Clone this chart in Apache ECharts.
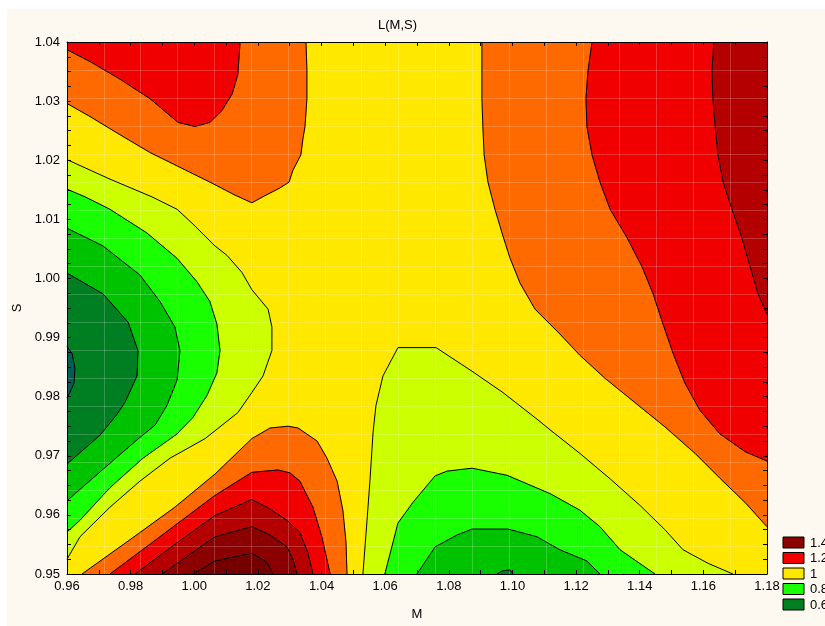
<!DOCTYPE html>
<html><head><meta charset="utf-8">
<script src="https://cdn.jsdelivr.net/npm/echarts@6/dist/echarts.min.js"></script>
<style>html,body{margin:0;padding:0;background:#fff;}#c{width:825px;height:626px;}</style>
</head><body><div id="c"></div>
<script>
// ---- axis ranges ----
const mRange = [0.96, 1.18];
const sRange = [0.95, 1.04];
const meshCount = 19; // data mesh intervals of the original surface

// ---- contour lines of L(M,S), as [M, S] points ----
// level 1.0
const c10_topLeft = [[0.9600,1.0296],[0.9672,1.0274],[0.9767,1.0243],[0.9861,1.0213],[0.9955,1.0188],[1.0049,1.0163],[1.0128,1.0141],[1.0181,1.0128],[1.0222,1.0140],[1.0269,1.0153],[1.0298,1.0163],[1.0310,1.0183],[1.0335,1.0209],[1.0342,1.0238],[1.0348,1.0257],[1.0354,1.0304],[1.0354,1.0354],[1.0351,1.0400]];
const c10_right = [[1.0904,1.0400],[1.0904,1.0304],[1.0907,1.0257],[1.0911,1.0209],[1.0923,1.0163],[1.0945,1.0117],[1.0970,1.0072],[1.0992,1.0035],[1.1024,0.9992],[1.1071,0.9948],[1.1149,0.9906],[1.1212,0.9870],[1.1291,0.9831],[1.1385,0.9790],[1.1479,0.9749],[1.1574,0.9704],[1.1652,0.9662],[1.1731,0.9621],[1.1800,0.9580]];
const c10_bottom = [[0.9647,0.9500],[0.9798,0.9558],[0.9939,0.9613],[1.0065,0.9669],[1.0181,0.9729],[1.0238,0.9747],[1.0295,0.9750],[1.0326,0.9747],[1.0386,0.9725],[1.0417,0.9696],[1.0449,0.9657],[1.0467,0.9608],[1.0477,0.9553],[1.0480,0.9500]];
// level 1.1
const c11_topLeft = [[0.9600,1.0387],[0.9672,1.0367],[0.9767,1.0337],[0.9861,1.0304],[0.9949,1.0264],[1.0002,1.0257],[1.0049,1.0264],[1.0087,1.0284],[1.0119,1.0312],[1.0137,1.0345],[1.0144,1.0400]];
const c11_right = [[1.1250,1.0400],[1.1237,1.0350],[1.1231,1.0304],[1.1234,1.0257],[1.1250,1.0209],[1.1275,1.0163],[1.1307,1.0117],[1.1360,1.0069],[1.1407,1.0020],[1.1442,0.9974],[1.1473,0.9923],[1.1505,0.9873],[1.1542,0.9823],[1.1589,0.9777],[1.1652,0.9737],[1.1731,0.9707],[1.1800,0.9691]];
const c11_bottom = [[0.9735,0.9500],[0.9892,0.9563],[1.0065,0.9633],[1.0181,0.9672],[1.0263,0.9676],[1.0301,0.9671],[1.0332,0.9657],[1.0373,0.9613],[1.0401,0.9563],[1.0427,0.9500]];
// level 1.2
const c12_right = [[1.1633,1.0400],[1.1627,1.0350],[1.1630,1.0304],[1.1637,1.0257],[1.1646,1.0209],[1.1662,1.0163],[1.1690,1.0117],[1.1721,1.0069],[1.1747,1.0020],[1.1772,0.9974],[1.1800,0.9939]];
const c12_bottom = [[0.9814,0.9500],[0.9946,0.9553],[1.0065,0.9599],[1.0181,0.9626],[1.0229,0.9613],[1.0291,0.9591],[1.0332,0.9570],[1.0357,0.9536],[1.0373,0.9500]];
// level 1.3
const c13_bottom = [[0.9899,0.9500],[1.0065,0.9563],[1.0181,0.9580],[1.0238,0.9566],[1.0291,0.9546],[1.0310,0.9525],[1.0323,0.9500]];
// level 1.4
const c14_bottom = [[0.9996,0.9500],[1.0065,0.9522],[1.0181,0.9535],[1.0229,0.9520],[1.0247,0.9500]];
// level 0.9
const c09_left = [[0.9600,1.0201],[0.9735,1.0168],[0.9867,1.0138],[0.9946,1.0117],[0.9996,1.0092],[1.0065,1.0055],[1.0103,1.0039],[1.0150,1.0010],[1.0181,0.9981],[1.0232,0.9948],[1.0244,0.9918],[1.0244,0.9878],[1.0216,0.9835],[1.0181,0.9807],[1.0137,0.9773],[1.0034,0.9729],[0.9924,0.9696],[0.9829,0.9657],[0.9735,0.9613],[0.9641,0.9563],[0.9600,0.9525]];
const c09_bottom = [[1.0530,0.9500],[1.0543,0.9591],[1.0552,0.9657],[1.0562,0.9740],[1.0571,0.9785],[1.0593,0.9835],[1.0640,0.9883],[1.0760,0.9883],[1.0873,0.9843],[1.0970,0.9807],[1.1077,0.9762],[1.1118,0.9744],[1.1212,0.9704],[1.1307,0.9661],[1.1401,0.9616],[1.1479,0.9575],[1.1536,0.9541],[1.1615,0.9518],[1.1693,0.9500]];
// level 0.8
const c08_left = [[0.9600,1.0151],[0.9657,1.0138],[0.9735,1.0117],[0.9851,1.0077],[0.9946,1.0034],[1.0009,0.9994],[1.0049,0.9961],[1.0071,0.9923],[1.0081,0.9878],[1.0071,0.9840],[1.0040,0.9802],[0.9996,0.9765],[0.9946,0.9737],[0.9839,0.9696],[0.9735,0.9646],[0.9641,0.9591],[0.9600,0.9571]];
const c08_bottom = [[1.0599,0.9500],[1.0640,0.9586],[1.0687,0.9621],[1.0757,0.9666],[1.0794,0.9674],[1.0873,0.9679],[1.0983,0.9667],[1.1118,0.9636],[1.1212,0.9608],[1.1275,0.9580],[1.1338,0.9541],[1.1448,0.9500]];
// level 0.7
const c07_left = [[0.9600,1.0085],[0.9713,1.0055],[0.9829,1.0006],[0.9892,0.9961],[0.9939,0.9918],[0.9955,0.9878],[0.9946,0.9828],[0.9914,0.9785],[0.9877,0.9752],[0.9820,0.9727],[0.9713,0.9677],[0.9600,0.9624]];
const c07_bottom = [[1.0700,0.9500],[1.0757,0.9546],[1.0826,0.9566],[1.0873,0.9576],[1.0986,0.9576],[1.1077,0.9563],[1.1149,0.9541],[1.1234,0.9522],[1.1275,0.9500]];
// level 0.6
const c06_left = [[0.9600,1.0009],[0.9713,0.9974],[0.9792,0.9926],[0.9823,0.9878],[0.9820,0.9835],[0.9782,0.9790],[0.9757,0.9770],[0.9704,0.9735],[0.9600,0.9686]];
const c06_bottom = [[1.0951,0.9500],[1.0967,0.9505],[1.0992,0.9507],[1.1002,0.9500]];
// level 0.5
const c05_left = [[0.9600,0.9885],[0.9616,0.9873],[0.9625,0.9848],[0.9622,0.9823],[0.9609,0.9807],[0.9600,0.9798]];

// ---- band colours ----
const C = {
  teal:'#005e56', dgreen:'#007f22', green:'#00c300', bgreen:'#1aff00', ygreen:'#ccff00',
  yellow:'#ffe800', orange:'#ff6a00', red:'#f00000', dred1:'#b40000', dred2:'#8b0000', dred3:'#740000'
};
// ---- legend ----
const legendLabels = ['1.4','1.2','1','0.8','0.6'];
const legendColors = [C.dred2, C.red, C.yellow, C.bgreen, C.dgreen];

const TL = [mRange[0], sRange[1]], TR = [mRange[1], sRange[1]];
const fills = [
  [c10_topLeft.concat([TL]), C.orange],
  [c10_right.concat([TR]), C.orange],
  [c10_bottom, C.orange],
  [c11_topLeft.concat([TL]), C.red],
  [c11_right.concat([TR]), C.red],
  [c11_bottom, C.red],
  [c12_right.concat([TR]), C.dred1],
  [c12_bottom, C.dred1],
  [c13_bottom, C.dred2],
  [c14_bottom, C.dred3],
  [c09_left, C.ygreen], [c09_bottom, C.ygreen],
  [c08_left, C.bgreen], [c08_bottom, C.bgreen],
  [c07_left, C.green], [c07_bottom, C.green],
  [c06_left, C.dgreen], [c06_bottom, C.dgreen],
  [c05_left, C.teal]
];
const contours = [c10_topLeft,c10_right,c10_bottom,c11_topLeft,c11_right,c11_bottom,c12_right,c12_bottom,c13_bottom,c14_bottom,
  c09_left,c09_bottom,c08_left,c08_bottom,c07_left,c07_bottom,c06_left,c06_bottom,c05_left];

const FONT = '"Liberation Sans", Arial, sans-serif';
const meshCats = Array.from({length: meshCount}, (_, i) => String(i));

const frameX = (pos, labels) => ({
  type:'value', position:pos, min:mRange[0], max:mRange[1], interval:0.02, z:5,
  axisLine:{show:true, onZero:false, lineStyle:{color:'#000', width:1}},
  axisTick:{show:true, inside:true, length:4, lineStyle:{color:'#000'}},
  minorTick:{show:true, splitNumber:2, length:4, lineStyle:{color:'#000'}},
  splitLine:{show:false},
  axisLabel:{show:labels, margin:6, fontSize:13, color:'#000', fontFamily:FONT, showMinLabel:true, showMaxLabel:true,
    formatter:v=>v.toFixed(2)},
  name: labels ? 'M' : '', nameLocation:'middle', nameGap:34,
  nameTextStyle:{fontSize:13, color:'#000', fontFamily:FONT}
});
const frameY = (pos, labels) => ({
  type:'value', position:pos, min:sRange[0], max:sRange[1], interval:0.01, z:5,
  axisLine:{show:true, onZero:false, lineStyle:{color:'#000', width:1}},
  axisTick:{show:true, inside:true, length:4, lineStyle:{color:'#000'}},
  minorTick:{show:true, splitNumber:4, length:4, lineStyle:{color:'#000'}},
  splitLine:{show:false},
  axisLabel:{show:labels, margin:7, fontSize:13, color:'#000', fontFamily:FONT, showMinLabel:true, showMaxLabel:true,
    formatter:v=>v.toFixed(2)},
  name: labels ? 'S' : '', nameLocation:'middle', nameGap:41, nameRotate:90,
  nameTextStyle:{fontSize:13, color:'#000', fontFamily:FONT}
});
const meshAxis = (pos) => ({
  type:'category', data:meshCats, position:pos, z:3, boundaryGap:true,
  axisLine:{show:false}, axisTick:{show:false}, axisLabel:{show:false},
  splitLine:{show:true, interval:0, lineStyle:{color:'rgba(255,255,255,0.2)', width:1}}
});

const chart = echarts.init(document.getElementById('c'), null, {renderer:'canvas'});
chart.setOption({
  animation:false,
  backgroundColor:'#fdf9f0',
  title:{text:'L(M,S)', left:378, top:19, padding:0, textStyle:{fontSize:13, fontWeight:'normal', color:'#000', fontFamily:FONT}},
  grid:{left:67, top:42, width:700, height:543, show:true, backgroundColor:C.yellow, borderWidth:0},
  xAxis:[frameX('bottom', true), frameX('top', false), meshAxis('bottom')],
  yAxis:[frameY('left', true), frameY('right', false), meshAxis('left')],
  graphic:[
    {type:'rect', shape:{x:0,y:0,width:825,height:9}, style:{fill:'#fff'}, silent:true},
    {type:'rect', shape:{x:0,y:0,width:7,height:626}, style:{fill:'#fff'}, silent:true}
  ].concat(legendLabels.flatMap((t,i)=>[
    {type:'rect', shape:{x:783, y:537+i*15.5, width:21, height:11}, style:{fill:legendColors[i], stroke:'#000', lineWidth:1}, silent:true},
    {type:'text', x:810, y:543+i*15.5, style:{text:t, fill:'#000', font:'13px '+FONT, verticalAlign:'middle'}, silent:true}
  ])),
  series:[
    {type:'custom', coordinateSystem:'cartesian2d', xAxisIndex:0, yAxisIndex:0, z:2, silent:true, clip:true,
      data: fills.map(f=>f[0][0]),
      renderItem:(params, api)=>{
        const f = fills[params.dataIndex];
        return {type:'polygon', shape:{points:f[0].map(p=>api.coord(p))}, style:{fill:f[1], stroke:f[1], lineWidth:0.6}};
      }}
  ].concat(contours.map(c=>({
    type:'line', xAxisIndex:0, yAxisIndex:0, data:c, symbol:'none', silent:true, z:4, clip:true,
    lineStyle:{color:'#000', width:1}
  })))
});
</script></body></html>
